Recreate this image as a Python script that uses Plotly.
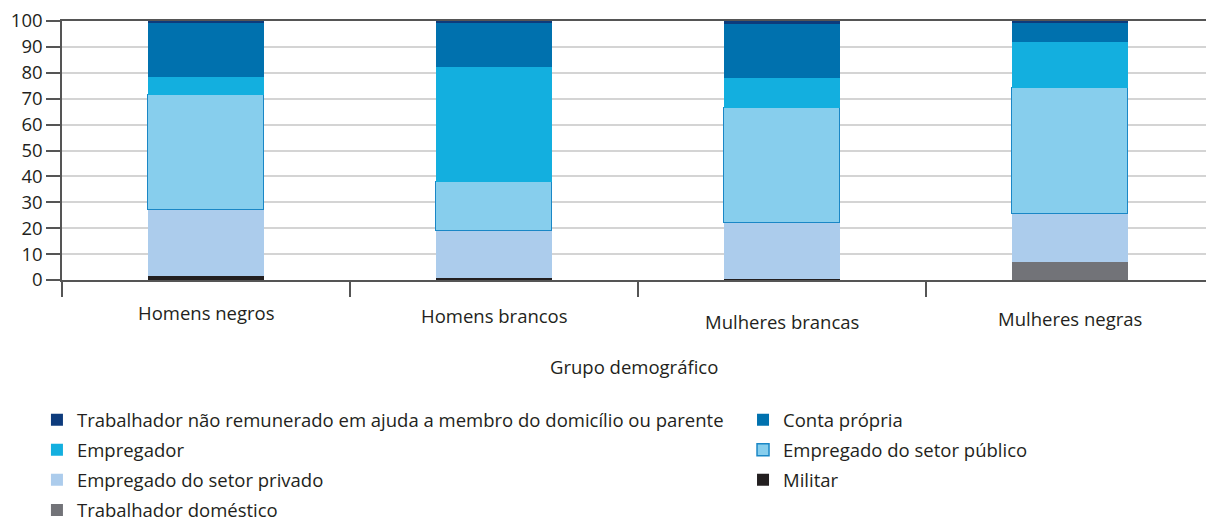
import plotly.graph_objects as go

categories = ["Homens negros", "Homens brancos", "Mulheres brancas", "Mulheres negras"]
domestico = [0.0, 0.0, 0.0, 7.0]
militar = [1.5, 0.9, 0.5, 0.0]
privado = [25.5, 18.1, 21.6, 18.5]
publico = [44.4, 18.8, 44.2, 48.7]
empregador = [7.0, 44.4, 11.7, 17.7]
conta_propria = [21.2, 17.0, 20.8, 7.7]
nao_remunerado = [0.4, 0.8, 1.2, 0.4]
y_ticks = [0, 10, 20, 30, 40, 50, 60, 70, 80, 90, 100]

# (name, values, color, legend id, row)
series = [
    ("Trabalhador doméstico", domestico, "#727378", "legend", 4),
    ("Militar", militar, "#231f20", "legend2", 3),
    ("Empregado do setor privado", privado, "#acccec", "legend", 3),
    ("Empregado do setor público", publico, "#87ceed", "legend2", 2),
    ("Empregador", empregador, "#13afdf", "legend", 2),
    ("Conta própria", conta_propria, "#0071ae", "legend2", 1),
    ("Trabalhador não remunerado em ajuda a membro do domicílio ou parente",
     nao_remunerado, "#0d3b7c", "legend", 1),
]

# vertical pixel offsets of category labels below the baseline (style only)
label_drop = [32, 35, 41, 38]

xpos = list(range(len(categories)))
FONT = "Open Sans"
TXT = "#231f20"
FS = 18.5

fig = go.Figure()
for name, vals, color, leg, row in series:
    is_pub = name == "Empregado do setor público"
    fig.add_trace(go.Bar(
        x=xpos, y=vals, name=name, width=0.4,
        marker=dict(color=color,
                    line=dict(color="#1a87c6" if is_pub else color,
                              width=1.5 if is_pub else 0)),
        legend=leg, legendgroup=name, legendrank=row,
        hoverinfo="skip",
    ))

for i, cat in enumerate(categories):
    fig.add_annotation(x=xpos[i], xref="x", y=0, yref="paper",
                       text=cat, showarrow=False, yanchor="middle",
                       yshift=-label_drop[i],
                       font=dict(size=FS, color=TXT, family=FONT))

fig.add_annotation(x=0.5, xref="paper", y=0, yref="paper", text="Grupo demográfico",
                   showarrow=False, yanchor="middle", yshift=-86,
                   font=dict(size=FS, color=TXT, family=FONT))

fig.update_layout(
    width=1206, height=522,
    barmode="stack",
    bargap=0,
    plot_bgcolor="white", paper_bgcolor="white",
    margin=dict(l=62, r=0, t=21, b=242, autoexpand=False),
    font=dict(family=FONT, size=FS, color=TXT),
    showlegend=True,
    legend=dict(orientation="v", x=-0.0219, xanchor="left", y=-0.468, yanchor="top",
                tracegroupgap=3, font=dict(size=FS, color=TXT),
                bgcolor="rgba(0,0,0,0)", itemclick=False),
    legend2=dict(orientation="v", x=0.5953, xanchor="left", y=-0.468, yanchor="top",
                 tracegroupgap=3, font=dict(size=FS, color=TXT),
                 bgcolor="rgba(0,0,0,0)", itemclick=False),
)

fig.update_xaxes(
    range=[-0.5, 3.472],
    tickmode="array", tickvals=xpos, ticktext=[""] * len(xpos),
    ticks="",
    showline=True, linecolor="#555555", linewidth=1.5, mirror=True,
    showgrid=False, zeroline=False, automargin=False,
    minor=dict(tickmode="array", tickvals=[-0.5, 0.5, 1.5, 2.5], ticks="outside",
               ticklen=15, tickcolor="#555555", tickwidth=1.5, showgrid=False),
)

fig.update_yaxes(
    range=[0, 100],
    tickmode="array", tickvals=y_ticks,
    ticks="outside", ticklen=14, tickcolor="#555555", tickwidth=1.5,
    tickfont=dict(size=FS, color=TXT),
    ticklabeloverflow="allow",
    showline=True, linecolor="#555555", linewidth=1.5,
    showgrid=True, gridcolor="#d4d4d4", gridwidth=1.5,
    zeroline=False, automargin=False,
)

fig.write_html("out.html",
               config={"displayModeBar": False},
               post_script="document.body.style.margin='0';document.body.style.overflow='hidden';")
